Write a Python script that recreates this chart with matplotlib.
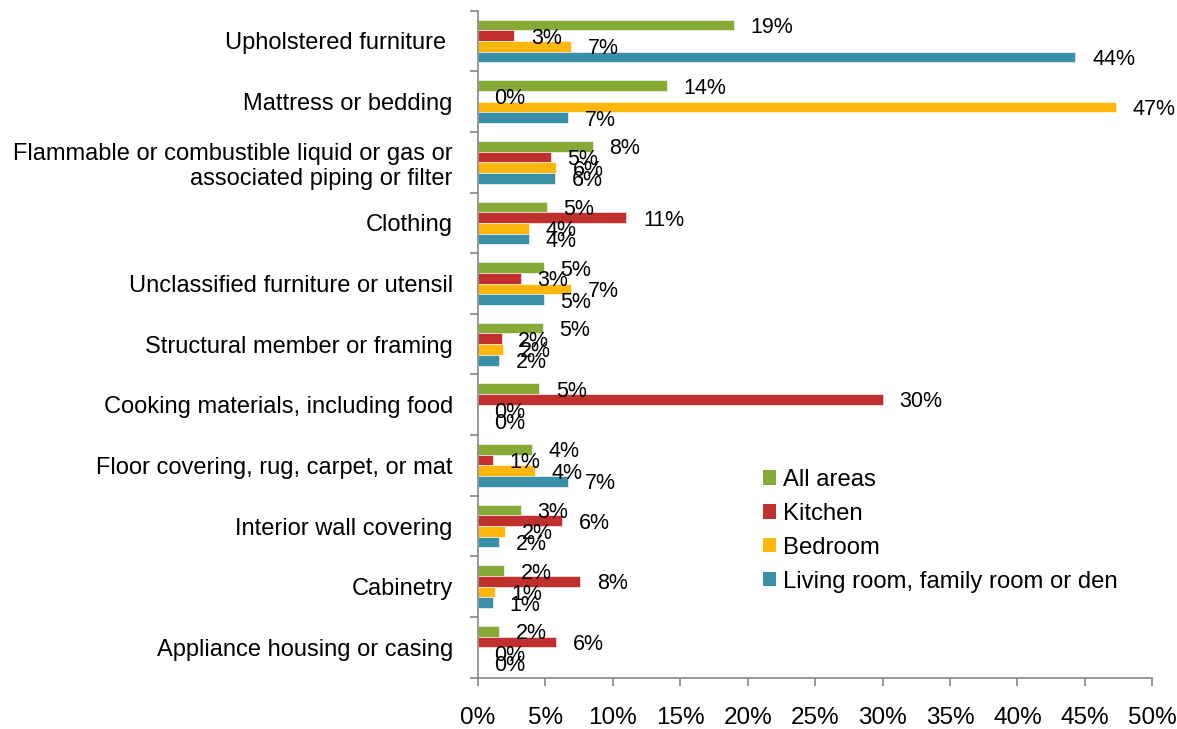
import numpy as np
import matplotlib
matplotlib.use("Agg")
import matplotlib.pyplot as plt
from matplotlib.patches import Patch

plt.rcParams["font.family"] = ["Liberation Sans", "DejaVu Sans"]

# ---------------------------- data ----------------------------
categories = [
    "Upholstered furniture ",
    "Mattress or bedding",
    "Flammable or combustible liquid or gas or\nassociated piping or filter",
    "Clothing",
    "Unclassified furniture or utensil",
    "Structural member or framing",
    "Cooking materials, including food",
    "Floor covering, rug, carpet, or mat",
    "Interior wall covering",
    "Cabinetry",
    "Appliance housing or casing",
]
series_names = ["All areas", "Kitchen", "Bedroom", "Living room, family room or den"]

all_areas = [19.0, 14.0, 8.5, 5.1, 4.9, 4.8, 4.55, 4.0, 3.2, 1.95, 1.55]
kitchen = [2.7, 0.0, 5.4, 11.0, 3.2, 1.76, 30.0, 1.1, 6.25, 7.6, 5.8]
bedroom = [6.9, 47.3, 5.8, 3.8, 6.9, 1.9, 0.0, 4.2, 2.0, 1.26, 0.0]
living = [44.3, 6.7, 5.7, 3.8, 4.9, 1.6, 0.0, 6.7, 1.6, 1.1, 0.0]

colors = ["#86AA36", "#C12F2F", "#FFB70C", "#3A90A6"]
x_ticks = [0, 5, 10, 15, 20, 25, 30, 35, 40, 45, 50]

# ---------------------------- plot ----------------------------
fig = plt.figure(figsize=(11.77, 7.29), dpi=100)
ax = fig.add_axes([0.406, 0.0704, 0.573, 0.915])

y = np.arange(len(categories))
h = 0.176
offsets = [-1.5 * h, -0.5 * h, 0.5 * h, 1.5 * h]

for vals, off, col in zip([all_areas, kitchen, bedroom, living], offsets, colors):
    bars = ax.barh(y + off, vals, height=h, color=col, edgecolor="white",
                   linewidth=0.4)
    # data labels just right of each bar end
    for b, v in zip(bars, vals):
        ax.annotate(f"{v:.0f}%", (v, b.get_y() + b.get_height() / 2),
                    xytext=(12, 0), textcoords="offset points",
                    ha="left", va="center_baseline", fontsize=15.5,
                    color="black")

ax.set_ylim(len(categories) - 0.5, -0.5)
ax.set_xlim(0, 50)
ax.set_yticks(y)
ax.set_yticklabels(categories, fontsize=17)
ax.set_yticks(np.arange(-0.5, len(categories), 1), minor=True)
ax.tick_params(axis="y", which="major", length=0, pad=18)
ax.tick_params(axis="y", which="minor", length=6, color="#868686", width=1.2,
               direction="out")
ax.set_xticks(x_ticks)
ax.set_xticklabels([f"{t}%" for t in x_ticks], fontsize=17.5)
ax.tick_params(axis="x", length=6, color="#868686", width=1.2, pad=15)

for s in ["top", "right"]:
    ax.spines[s].set_visible(False)
for s in ["left", "bottom"]:
    ax.spines[s].set_color("#868686")
    ax.spines[s].set_linewidth(1.2)

handles = [Patch(facecolor=c, edgecolor="none") for c in colors]
ax.legend(handles, series_names, loc="upper left",
          bbox_to_anchor=(0.640, 0.370), bbox_transform=fig.transFigure,
          frameon=False, fontsize=17.2, handlelength=0.55, handleheight=0.55,
          handletextpad=0.3, labelspacing=0.50, borderaxespad=0)

fig.savefig("out.png", dpi=100)
